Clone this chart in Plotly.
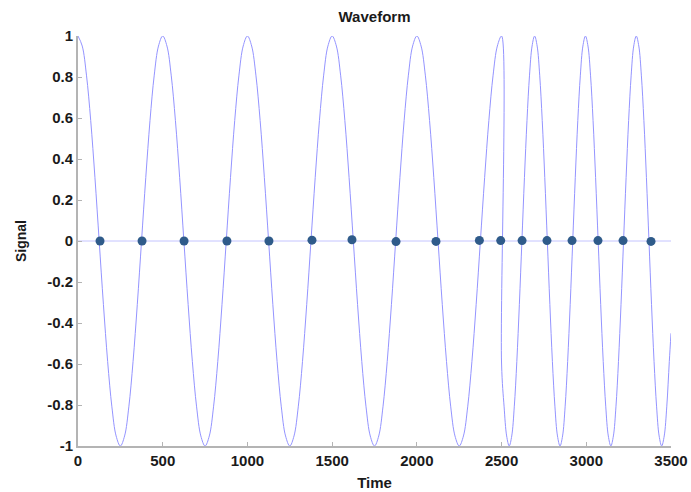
import plotly.graph_objects as go

# ---- data ----
# first segment: period 500, sampled every 25
time_a = [0, 25, 50, 75, 100, 125, 150, 175, 200, 225, 250, 275, 300, 325, 350, 375, 400, 425, 450, 475,
          500, 525, 550, 575, 600, 625, 650, 675, 700, 725, 750, 775, 800, 825, 850, 875, 900, 925, 950, 975,
          1000, 1025, 1050, 1075, 1100, 1125, 1150, 1175, 1200, 1225, 1250, 1275, 1300, 1325, 1350, 1375, 1400, 1425, 1450, 1475,
          1500, 1525, 1550, 1575, 1600, 1625, 1650, 1675, 1700, 1725, 1750, 1775, 1800, 1825, 1850, 1875, 1900, 1925, 1950, 1975,
          2000, 2025, 2050, 2075, 2100, 2125, 2150, 2175, 2200, 2225, 2250, 2275, 2300, 2325, 2350, 2375, 2400, 2425, 2450, 2475,
          2500]
signal_a = [1, 0.951, 0.809, 0.588, 0.309, 0, -0.309, -0.588, -0.809, -0.951, -1, -0.951, -0.809, -0.588, -0.309, 0, 0.309, 0.588, 0.809, 0.951,
            1, 0.951, 0.809, 0.588, 0.309, 0, -0.309, -0.588, -0.809, -0.951, -1, -0.951, -0.809, -0.588, -0.309, 0, 0.309, 0.588, 0.809, 0.951,
            1, 0.951, 0.809, 0.588, 0.309, 0, -0.309, -0.588, -0.809, -0.951, -1, -0.951, -0.809, -0.588, -0.309, 0, 0.309, 0.588, 0.809, 0.951,
            1, 0.951, 0.809, 0.588, 0.309, 0, -0.309, -0.588, -0.809, -0.951, -1, -0.951, -0.809, -0.588, -0.309, 0, 0.309, 0.588, 0.809, 0.951,
            1, 0.951, 0.809, 0.588, 0.309, 0, -0.309, -0.588, -0.809, -0.951, -1, -0.951, -0.809, -0.588, -0.309, 0, 0.309, 0.588, 0.809, 0.951,
            1]
# second segment: period 300, sampled every 15, jumps at 2500
time_b = [2500, 2515, 2530, 2545, 2560, 2575, 2590, 2605, 2620, 2635, 2650, 2665, 2680,
          2695, 2710, 2725, 2740, 2755, 2770, 2785, 2800, 2815, 2830,
          2845, 2860, 2875, 2890, 2905, 2920, 2935, 2950, 2965, 2980,
          2995, 3010, 3025, 3040, 3055, 3070, 3085, 3100, 3115, 3130,
          3145, 3160, 3175, 3190, 3205, 3220, 3235, 3250, 3265, 3280,
          3295, 3310, 3325, 3340, 3355, 3370, 3385, 3400, 3415, 3430,
          3445, 3460, 3475, 3490, 3500]
signal_b = [-0.6, -0.809, -0.951, -1, -0.951, -0.809, -0.588, -0.309, 0, 0.309, 0.588, 0.809, 0.951,
            1, 0.951, 0.809, 0.588, 0.309, 0, -0.309, -0.588, -0.809, -0.951,
            -1, -0.951, -0.809, -0.588, -0.309, 0, 0.309, 0.588, 0.809, 0.951,
            1, 0.951, 0.809, 0.588, 0.309, 0, -0.309, -0.588, -0.809, -0.951,
            -1, -0.951, -0.809, -0.588, -0.309, 0, 0.309, 0.588, 0.809, 0.951,
            1, 0.951, 0.809, 0.588, 0.309, 0, -0.309, -0.588, -0.809, -0.951,
            -1, -0.951, -0.809, -0.588, -0.45]

# detected zero crossings
cross_t = [130, 378, 626, 879, 1127, 1381, 1617, 1877, 2113, 2369, 2495, 2621, 2768, 2916, 3069, 3217, 3382]
cross_v = [0, 0, 0, 0, 0, 0.004, 0.006, -0.003, -0.002, 0.003, 0.002, 0.002, 0.002, 0.002, 0.002, 0.002, -0.002]

zero_t = [0, 3500]
zero_v = [0, 0]

x_ticks = [0, 500, 1000, 1500, 2000, 2500, 3000, 3500]
x_labels = ["0", "500", "1000", "1500", "2000", "2500", "3000", "3500"]
y_ticks = [1, 0.8, 0.6, 0.4, 0.2, 0, -0.2, -0.4, -0.6, -0.8, -1]
y_labels = ["1", "0.8", "0.6", "0.4", "0.2", "0", "-0.2", "-0.4", "-0.6", "-0.8", "-1"]

FONT = "Liberation Sans, Arial, sans-serif"

fig = go.Figure()
fig.add_trace(go.Scatter(x=zero_t, y=zero_v, mode="lines",
                         line=dict(color="#c4c4ff", width=1), hoverinfo="skip"))
fig.add_trace(go.Scatter(x=time_a + time_b, y=signal_a + signal_b, mode="lines",
                         line=dict(color="#9494ff", width=1, shape="spline", smoothing=1)))
fig.add_trace(go.Scatter(x=cross_t, y=cross_v, mode="markers",
                         marker=dict(color="#2f5b8a", size=9)))

axis_common = dict(
    showgrid=False, zeroline=False, showline=True, linecolor="#b4b4b4", linewidth=2,
    ticks="inside", ticklen=4, tickcolor="#b4b4b4", tickwidth=1,
    tickfont=dict(family=FONT, size=15, color="#1a1a1a", weight="bold"),
    mirror=False, automargin=False,
)
fig.update_xaxes(range=[0, 3500], tickvals=x_ticks, ticktext=x_labels,
                 title=dict(text="Time", font=dict(family=FONT, size=15, color="#1a1a1a", weight="bold"), standoff=9),
                 **axis_common)
fig.update_yaxes(range=[-1, 1], tickvals=y_ticks, ticktext=y_labels,
                 title=dict(text="Signal", font=dict(family=FONT, size=14, color="#1a1a1a", weight="bold"), standoff=17),
                 **axis_common)
fig.update_layout(
    width=691, height=492,
    margin=dict(l=78, r=20, t=36, b=46),
    paper_bgcolor="white", plot_bgcolor="white",
    showlegend=False,
    title=dict(text="Waveform", xanchor="center", y=0.965, yanchor="middle",
               font=dict(family=FONT, size=15, color="#1a1a1a", weight="bold")),
)
fig.update_layout(title_x=0.5 + (78 - 20) / 2 / 691)
fig.write_html("out.html")
